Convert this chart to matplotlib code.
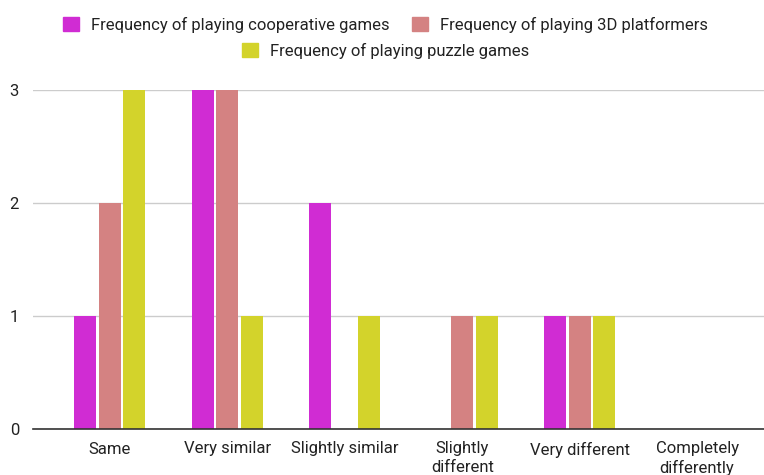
import numpy as np
import matplotlib
matplotlib.use("Agg")
import matplotlib.pyplot as plt
from matplotlib.patches import Patch

plt.rcParams['font.family'] = ['Roboto', 'DejaVu Sans']

categories = ["Same", "Very similar", "Slightly similar", "Slightly\ndifferent",
              "Very different", "Completely\ndifferently"]
series_names = ["Frequency of playing cooperative games",
                "Frequency of playing 3D platformers",
                "Frequency of playing puzzle games"]
cooperative = [1, 3, 2, 0, 1, 0]
platformers = [2, 3, 0, 1, 1, 0]
puzzle = [3, 1, 1, 1, 1, 0]
y_ticks = [0, 1, 2, 3]

colors = ["#D02CD3", "#D48282", "#D3D32B"]
text_color = "#222222"
fs = 12

fig = plt.figure(figsize=(7.64, 4.75), dpi=100)
ax = fig.add_axes([33 / 764, 1 - 429 / 475, 1 - 33 / 764, (429 - 90) / 475])

x = np.arange(len(categories))
step = 0.2085
width = 0.187
for i, (vals, c) in enumerate(zip([cooperative, platformers, puzzle], colors)):
    ax.bar(x + (i - 1) * step, vals, width=width, color=c, zorder=3,
           label=series_names[i])

ax.set_xlim(-0.655, 5.57)
ax.set_ylim(0, 3)
ax.set_yticks(y_ticks)
ax.set_yticklabels([str(t) for t in y_ticks], fontsize=fs, color=text_color)
ax.set_xticks(x)
ax.set_xticklabels(categories, fontsize=fs, color=text_color, linespacing=1.25)
ax.tick_params(axis='both', length=0)
ax.tick_params(axis='x', pad=9)
ax.tick_params(axis='y', pad=10)

ax.grid(axis='y', color="#CCCCCC", linewidth=1, zorder=0)
for s in ["top", "right", "left"]:
    ax.spines[s].set_visible(False)
ax.spines["bottom"].set_color("#333333")
ax.spines["bottom"].set_linewidth(1.2)
ax.spines["bottom"].set_zorder(4)

handles = [Patch(facecolor=c, edgecolor=c) for c in colors]
leg_kw = dict(frameon=False, fontsize=fs, handlelength=0.95, handleheight=0.95,
              handletextpad=0.72, columnspacing=1.4, labelcolor=text_color,
              borderaxespad=0, borderpad=0)
fig.legend(handles[:2], series_names[:2], ncol=2, loc="center",
           bbox_to_anchor=(385.5 / 764, 1 - 25 / 475), **leg_kw)
fig.legend(handles[2:], series_names[2:], ncol=1, loc="center",
           bbox_to_anchor=(386 / 764, 1 - 51 / 475), **leg_kw)

fig.savefig("out.png", dpi=100)
